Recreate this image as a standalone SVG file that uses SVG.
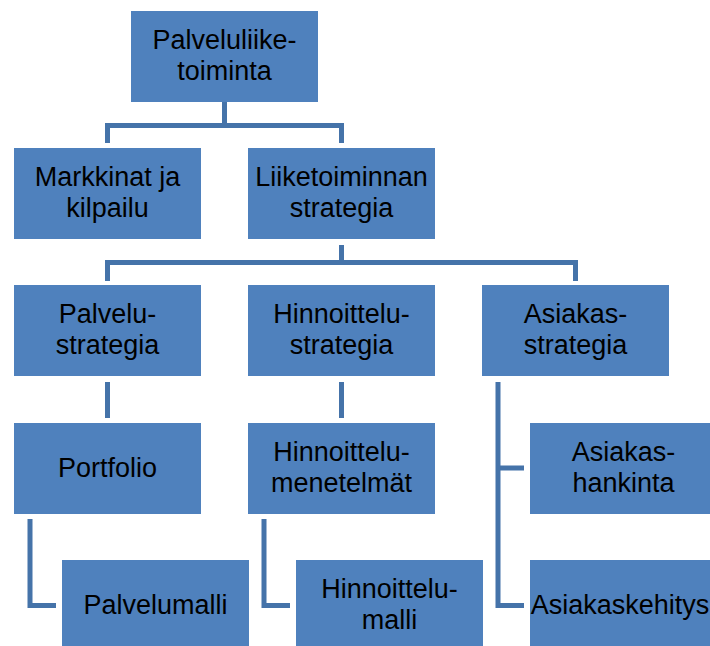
<svg xmlns="http://www.w3.org/2000/svg" width="710" height="646" viewBox="0 0 710 646">
  <style>
    .box { fill: #4f81bd; }
    .lbl { font-family: "Liberation Sans", Arial, sans-serif; font-size: 27px; fill: #000; text-anchor: middle; }
    .conn { fill: none; stroke: #4573a9; stroke-width: 5; stroke-linecap: butt; stroke-linejoin: miter; }
  </style>
  <rect width="710" height="646" fill="#ffffff"/>

  <g id="connectors">
    <path class="conn" d="M224.5 102 V125.5 M107.5 143 V125.5 H341.5 V143"/>
    <path class="conn" d="M341.5 245 V262.5 M107.5 281 V262.5 H575.5 V281"/>
    <path class="conn" d="M107.5 382 V418"/>
    <path class="conn" d="M341.5 382 V418"/>
    <path class="conn" d="M498 382 V605.5 H524 M498 468 H524"/>
    <path class="conn" d="M30 519 V605.5 H56"/>
    <path class="conn" d="M264 519 V605.5 H290"/>
  </g>

  <g id="palveluliiketoiminta">
    <rect class="box" x="131" y="11" width="187" height="91"/>
    <text class="lbl" x="224.5" y="48.5">Palveluliike-</text>
    <text class="lbl" x="224.5" y="79.5">toiminta</text>
  </g>

  <g id="markkinat">
    <rect class="box" x="14" y="148" width="187" height="91"/>
    <text class="lbl" x="107.5" y="185.5">Markkinat ja</text>
    <text class="lbl" x="107.5" y="216.5">kilpailu</text>
  </g>

  <g id="liiketoiminnan-strategia">
    <rect class="box" x="248" y="148" width="187" height="91"/>
    <text class="lbl" x="341.5" y="185.5">Liiketoiminnan</text>
    <text class="lbl" x="341.5" y="216.5">strategia</text>
  </g>

  <g id="palvelustrategia">
    <rect class="box" x="14" y="285" width="187" height="91"/>
    <text class="lbl" x="107.5" y="322.5">Palvelu-</text>
    <text class="lbl" x="107.5" y="353.5">strategia</text>
  </g>

  <g id="hinnoittelustrategia">
    <rect class="box" x="248" y="285" width="187" height="91"/>
    <text class="lbl" x="341.5" y="322.5">Hinnoittelu-</text>
    <text class="lbl" x="341.5" y="353.5">strategia</text>
  </g>

  <g id="asiakasstrategia">
    <rect class="box" x="482" y="285" width="187" height="91"/>
    <text class="lbl" x="575.5" y="322.5">Asiakas-</text>
    <text class="lbl" x="575.5" y="353.5">strategia</text>
  </g>

  <g id="portfolio">
    <rect class="box" x="14" y="423" width="187" height="91"/>
    <text class="lbl" x="107.5" y="477">Portfolio</text>
  </g>

  <g id="hinnoittelumenetelmat">
    <rect class="box" x="248" y="423" width="187" height="91"/>
    <text class="lbl" x="341.5" y="460.5">Hinnoittelu-</text>
    <text class="lbl" x="341.5" y="491.5">menetelmät</text>
  </g>

  <g id="asiakashankinta">
    <rect class="box" x="530" y="423" width="187" height="91"/>
    <text class="lbl" x="623.5" y="460.5">Asiakas-</text>
    <text class="lbl" x="623.5" y="491.5">hankinta</text>
  </g>

  <g id="palvelumalli">
    <rect class="box" x="62" y="560" width="187" height="91"/>
    <text class="lbl" x="155.5" y="614">Palvelumalli</text>
  </g>

  <g id="hinnoittelumalli">
    <rect class="box" x="296" y="560" width="187" height="91"/>
    <text class="lbl" x="389.5" y="597.5">Hinnoittelu-</text>
    <text class="lbl" x="389.5" y="628.5">malli</text>
  </g>

  <g id="asiakaskehitys">
    <rect class="box" x="530" y="560" width="187" height="91"/>
    <text class="lbl" x="620" y="614">Asiakaskehitys</text>
  </g>
</svg>
